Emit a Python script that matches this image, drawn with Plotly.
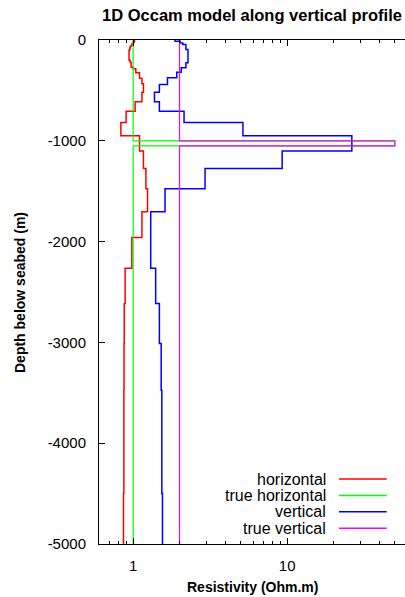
import math
import plotly.graph_objects as go

# ---------------- data ----------------
# layered model: depth of top of each layer (m, negative down) and resistivity (Ohm.m)
horizontal_top = [0, -20, -40, -60, -80, -100, -200, -220, -270, -286, -325, -379, -435,
                  -518, -612, -706, -818, -950, -1100, -1275, -1475, -1705, -1960, -2265,
                  -2615, -3010, -3475, -4500]
horizontal_res = [1.02, 1.00, 0.98, 0.96, 0.95, 0.94, 0.955, 0.97, 1.00, 1.04, 1.10, 1.14, 1.166,
                  1.14, 1.03, 0.90, 0.832, 1.10, 1.166, 1.21, 1.24, 1.14, 0.98, 0.887,
                  0.875, 0.872, 0.87, 0.865]

vertical_top = [0, -12, -30, -45, -94, -226, -276, -319, -375, -441, -518, -612, -706,
                -818, -950, -1100, -1275, -1475, -1705, -2265, -2615, -3010, -3475, -4500]
vertical_res = [1.87, 2.02, 2.1, 2.2, 2.27, 2.2, 2.05, 1.92, 1.67, 1.48, 1.375, 1.48, 2.14,
                5.16, 26.3, 9.28, 2.93, 1.61, 1.30, 1.40, 1.48, 1.52, 1.535, 1.55]

true_top = [0, -1000, -1050]
true_horizontal_res = [1, 50, 1]
true_vertical_res = [2, 50, 2]

bottom_depth = -5000

series_names = ["horizontal", "true horizontal", "vertical", "true vertical"]
series_colors = ["#ff0000", "#00ff00", "#0000ff", "#ff00ff"]

x_major = [1, 10]
x_minor = [0.6, 0.7, 0.8, 0.9, 2, 3, 4, 5, 6, 7, 8, 9, 20, 30, 40, 50]
y_ticks = [0, -1000, -2000, -3000, -4000, -5000]

# ---------------- figure ----------------
W, H = 405, 597
ML, MR, MT, MB = 99, 0, 40, 53
PW, PH = W - ML - MR, H - MT - MB

def profile(tops, res):
    return list(res) + [res[-1]], list(tops) + [bottom_depth]

fig = go.Figure()
data = [(horizontal_top, horizontal_res, 1.5),
        (true_top, true_horizontal_res, 1.2),
        (vertical_top, vertical_res, 1.5),
        (true_top, true_vertical_res, 1.2)]
for (tops, res, lw), name, col in zip(data, series_names, series_colors):
    xs, ys = profile(tops, res)
    fig.add_trace(go.Scatter(x=xs, y=ys, mode="lines", name=name,
                             line=dict(color=col, width=lw, shape="vh"),
                             showlegend=False, hoverinfo="skip"))

# x range: left edge at 0.6, 154 px per decade
px_per_dec = 154.0
xlo = math.log10(0.6)
xhi = xlo + PW / px_per_dec

font_fam = "Liberation Sans, Arial, Helvetica, sans-serif"

fig.update_layout(
    width=W, height=H,
    margin=dict(l=ML, r=MR, t=MT, b=MB),
    paper_bgcolor="white", plot_bgcolor="white",
    font=dict(family=font_fam, color="black", size=15),
    title=dict(text="<b>1D Occam model along vertical profile</b>",
               x=(ML + PW / 2) / W, xanchor="center",
               y=1 - 15 / H, yanchor="middle", yref="container",
               font=dict(size=16.5, family=font_fam, color="black")),
    xaxis=dict(type="log", range=[xlo, xhi], showgrid=False, zeroline=False,
               showline=True, linecolor="black", linewidth=1, mirror="ticks",
               ticks="inside", ticklen=6, tickwidth=1, tickcolor="black",
               tickmode="array", tickvals=x_major, ticktext=[str(v) for v in x_major],
               ticklabelstandoff=8,
               minor=dict(tickmode="array", tickvals=x_minor, ticks="inside",
                          ticklen=3, tickwidth=1, tickcolor="black", showgrid=False),
               tickfont=dict(size=15)),
    yaxis=dict(range=[bottom_depth, 0], showgrid=False, zeroline=False,
               showline=True, linecolor="black", linewidth=1, mirror=False,
               ticks="inside", ticklen=6, tickwidth=1, tickcolor="black",
               tickmode="array", tickvals=y_ticks, ticktext=[str(v) for v in y_ticks],
               ticklabelstandoff=9, tickfont=dict(size=15)),
    yaxis2=dict(range=[bottom_depth, 0], overlaying="y", side="right", matches="y",
                showgrid=False, zeroline=False, showline=False,
                ticks="inside", ticklen=6, tickwidth=1, tickcolor="black",
                tickmode="array", tickvals=y_ticks, showticklabels=False),
)

# axis titles
fig.add_annotation(text="<b>Resistivity (Ohm.m)</b>", xref="paper", yref="paper",
                   x=0.5, y=-(586.5 - (MT + PH)) / PH, xanchor="center", yanchor="middle",
                   showarrow=False, font=dict(size=14, family=font_fam))
fig.add_annotation(text="<b>Depth below seabed (m)</b>", xref="paper", yref="paper",
                   x=-(ML - 20) / PW, y=0.5, xanchor="center", yanchor="middle",
                   textangle=-90, showarrow=False, font=dict(size=14, family=font_fam))

# legend (text right-aligned, sample line on the right)
leg_y = [479, 495.5, 511.8, 528.3]
text_right = 327.7
line_x0, line_x1 = 339, 386.7
for name, col, py in zip(series_names, series_colors, leg_y):
    yp = (MT + PH - py) / PH
    fig.add_annotation(text=name, xref="paper", yref="paper",
                       x=(text_right - ML) / PW, y=yp, xanchor="right", yanchor="middle",
                       showarrow=False, font=dict(size=16, family=font_fam))
    fig.add_shape(type="line", xref="paper", yref="paper",
                  x0=(line_x0 - ML) / PW, x1=(line_x1 - ML) / PW, y0=yp, y1=yp,
                  line=dict(color=col, width=1.5))

fig.write_html("out.html")
